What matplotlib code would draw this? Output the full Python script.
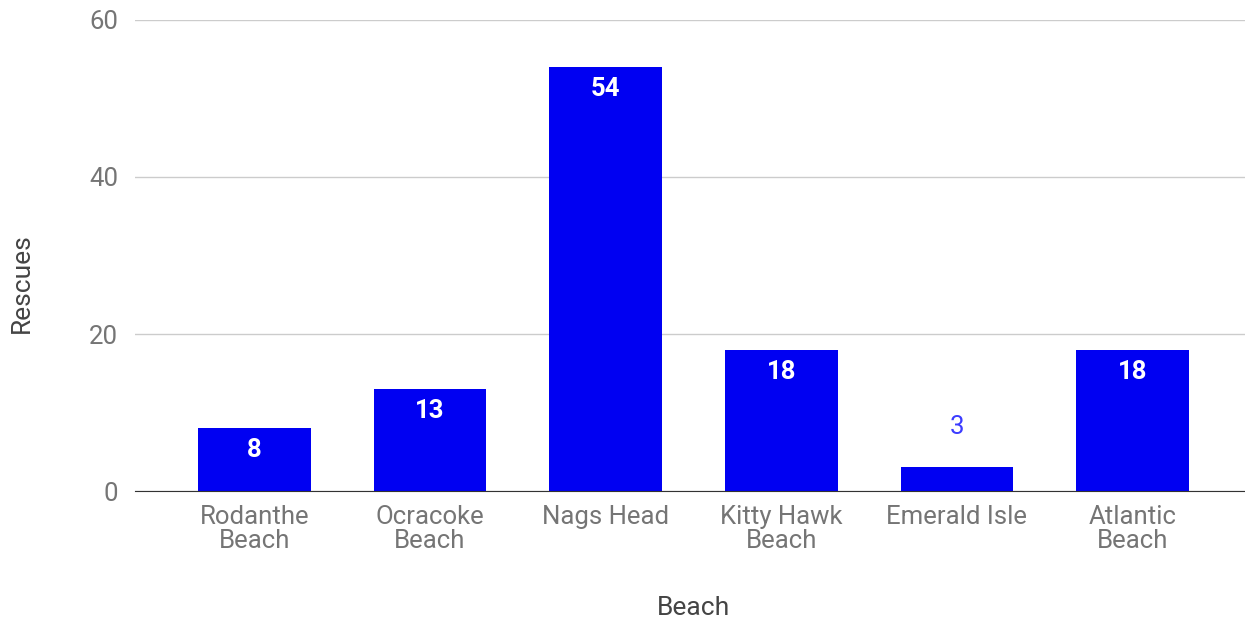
import matplotlib.pyplot as plt

beaches = ['Rodanthe\nBeach', 'Ocracoke\nBeach', 'Nags Head', 'Kitty Hawk\nBeach', 'Emerald Isle', 'Atlantic\nBeach']
rescues = [8, 13, 54, 18, 3, 18]

plt.rcParams['font.family'] = ['Roboto', 'DejaVu Sans']

fig = plt.figure(figsize=(12.45, 6.24), dpi=100)
ax = fig.add_axes([0.1084, 0.2131, 0.8916, 0.7549])

x = range(len(beaches))
bars = ax.bar(x, rescues, width=0.64, color='#0000f2', zorder=3)

for b, v in zip(bars, rescues):
    cx = b.get_x() + b.get_width() / 2
    if v >= 5:
        ax.annotate(str(v), (cx, v), xytext=(0, -16), textcoords='offset points',
                    ha='center', va='center', color='white', fontsize=18.5, fontweight='bold')
    else:
        ax.annotate(str(v), (cx, v), xytext=(0, 29), textcoords='offset points',
                    ha='center', va='center', color='#3c3cff', fontsize=18.5)

ax.set_xlim(-0.68, 5.64)
ax.set_ylim(0, 60)
ax.set_yticks([0, 20, 40, 60])
ax.set_xticks(list(x))
ax.set_xticklabels(beaches, linespacing=1.02)
ax.tick_params(axis='both', length=0, colors='#757575', labelsize=18.5)
ax.tick_params(axis='y', pad=12)
ax.tick_params(axis='x', pad=10)
ax.grid(axis='y', color='#cccccc', linewidth=1, zorder=0)
for s in ['top', 'right', 'left']:
    ax.spines[s].set_visible(False)
ax.spines['bottom'].set_color('#333333')
ax.spines['bottom'].set_zorder(4)

ax.set_xlabel('Beach', color='#444444', fontsize=19, va='center')
ax.set_ylabel('Rescues', color='#444444', fontsize=19, va='center')
ax.xaxis.set_label_coords(0.503, -0.248)
ax.yaxis.set_label_coords(-0.1018, 0.4416)

fig.savefig('out.png', dpi=100)
